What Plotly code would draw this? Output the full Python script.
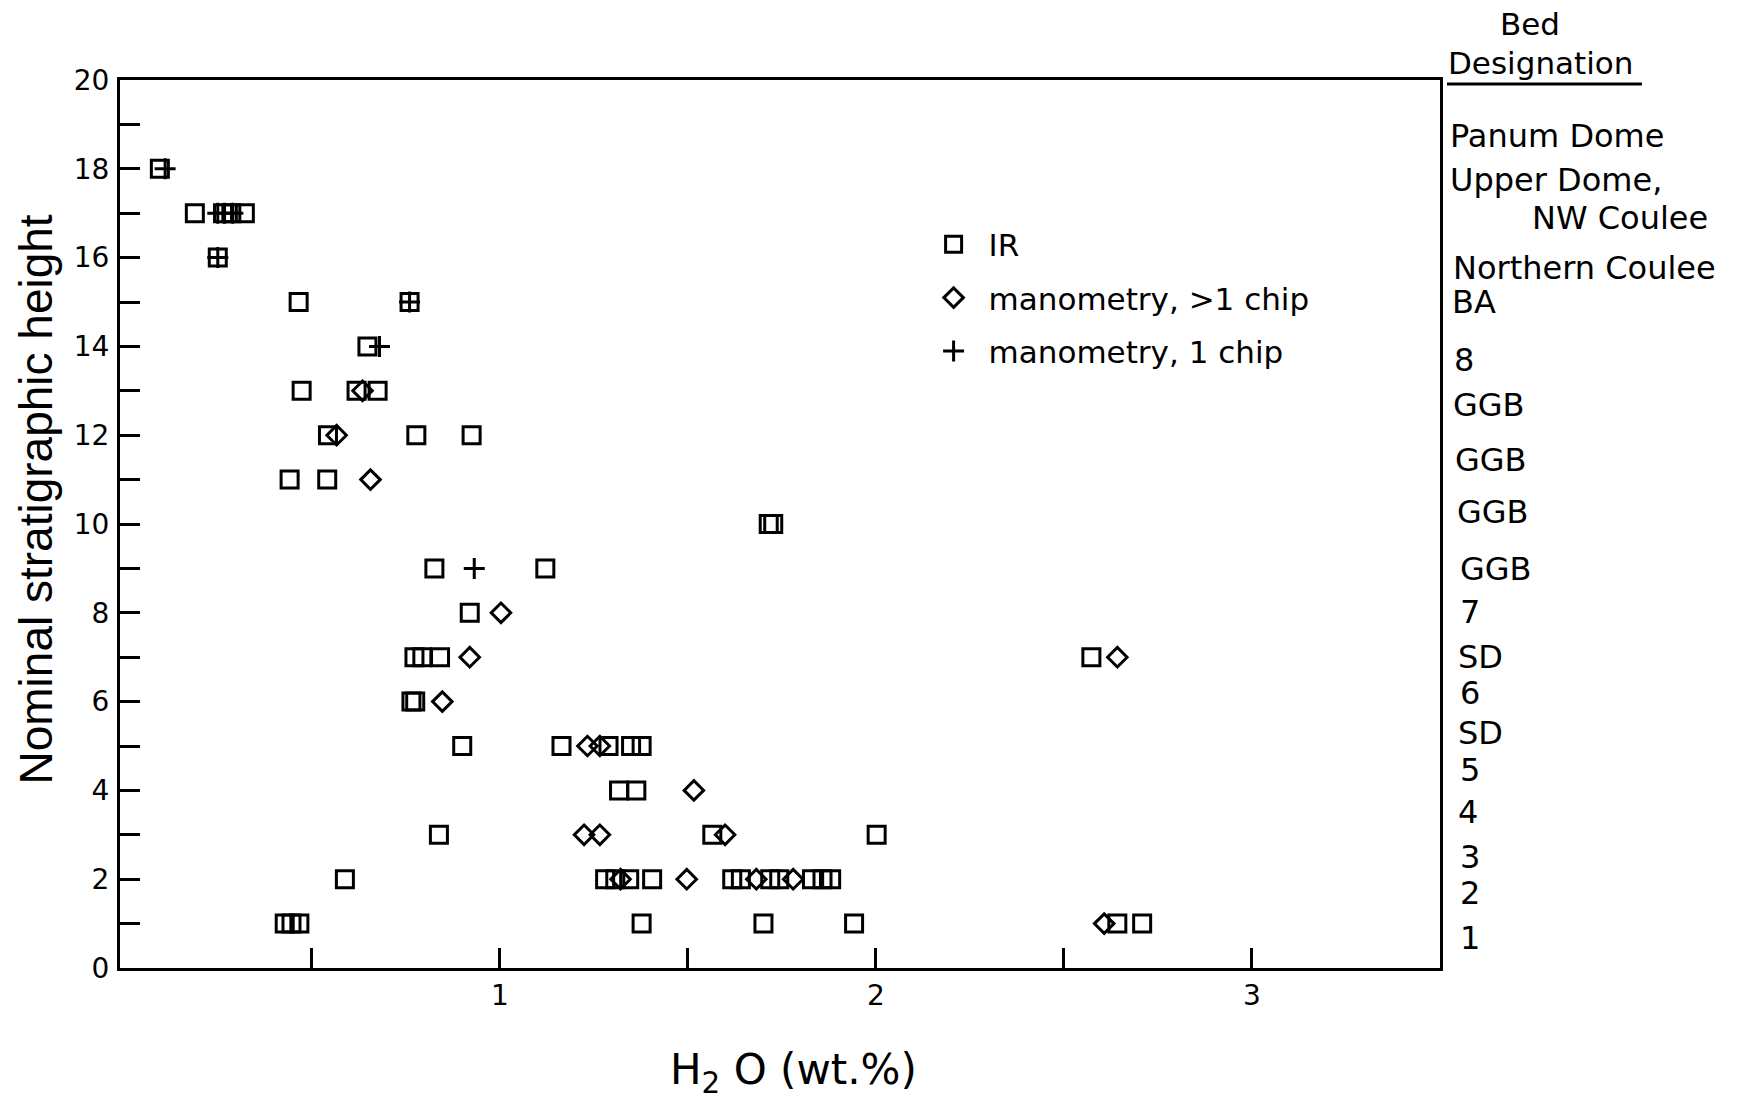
import plotly.graph_objects as go

# ---------------- data ----------------
# IR measurements (open squares)
ir_x = [0.096,
        0.189, 0.264, 0.286, 0.322,
        0.25,
        0.465, 0.76,
        0.648,
        0.473, 0.619, 0.675,
        0.543, 0.778, 0.925,
        0.441, 0.541,
        1.715, 1.727,
        0.826, 1.121,
        0.920,
        0.773, 0.794, 0.841, 2.573,
        0.765, 0.775,
        0.900, 1.164, 1.289, 1.349, 1.377,
        1.317, 1.363,
        0.838, 1.565, 2.002,
        0.588, 1.280, 1.307, 1.344, 1.405, 1.618, 1.641, 1.719, 1.743, 1.830, 1.858, 1.881,
        0.428, 0.446, 0.467, 1.377, 1.701, 1.942, 2.642, 2.708]
ir_y = [18,
        17, 17, 17, 17,
        16,
        15, 15,
        14,
        13, 13, 13,
        12, 12, 12,
        11, 11,
        10, 10,
        9, 9,
        8,
        7, 7, 7, 7,
        6, 6,
        5, 5, 5, 5, 5,
        4, 4,
        3, 3, 3,
        2, 2, 2, 2, 2, 2, 2, 2, 2, 2, 2, 2,
        1, 1, 1, 1, 1, 1, 1, 1]

# manometry, >1 chip (open diamonds)
mano_multi_x = [0.635, 0.566, 0.656, 1.003, 0.920, 2.642, 0.847,
                1.233, 1.266, 1.516, 1.224, 1.266, 1.599,
                1.321, 1.497, 1.682, 1.780, 2.607]
mano_multi_y = [13, 12, 11, 8, 7, 7, 6,
                5, 5, 4, 3, 3, 3,
                2, 2, 2, 2, 1]

# manometry, 1 chip (plus signs)
mano_single_x = [0.110, 0.250, 0.268, 0.290, 0.250, 0.760, 0.680, 0.932]
mano_single_y = [18, 17, 17, 17, 16, 15, 14, 9]

# axis ticks
x_tick_vals = [1, 2, 3]
x_tick_text = ["1", "2", "3"]
x_minor_vals = [0.5, 1.5, 2.5]

# bed designations (right-hand column) and their heights on the y scale
bed_labels = ["Panum Dome", "Upper Dome,", "NW Coulee", "Northern Coulee", "BA",
              "8", "GGB", "GGB", "GGB", "GGB", "7", "SD", "6", "SD",
              "5", "4", "3", "2", "1"]
bed_label_y = [18.74, 17.75, 16.90, 15.77, 15.00,
               13.70, 12.68, 11.44, 10.27, 8.99, 8.02, 7.01, 6.19, 5.30,
               4.46, 3.51, 2.50, 1.69, 0.68]
# horizontal offsets (px) of the labels from the right frame
bed_label_dx = [8, 8, 90, 11, 10,
                12, 11, 13, 15, 18, 18, 16, 18, 16,
                18, 16, 18, 18, 18]

FONT = "DejaVu Sans"
TITLE_FONT = "Liberation Sans, Arial, sans-serif"

fig = go.Figure()

fig.add_trace(go.Scatter(
    x=ir_x, y=ir_y, mode="markers", name="IR", legendgroup="a",
    marker=dict(symbol="square-open", size=17, color="black",
                line=dict(width=3, color="black"))))
fig.add_trace(go.Scatter(
    x=mano_multi_x, y=mano_multi_y, mode="markers",
    name="manometry, >1 chip", legendgroup="b",
    marker=dict(symbol="diamond-open", size=15, color="black",
                line=dict(width=3, color="black"))))
fig.add_trace(go.Scatter(
    x=mano_single_x, y=mano_single_y, mode="markers",
    name="manometry, 1 chip", legendgroup="c",
    marker=dict(symbol="cross-thin", size=15, color="black",
                line=dict(width=3, color="black"))))

annotations = []
for txt, yv, dx in zip(bed_labels, bed_label_y, bed_label_dx):
    annotations.append(dict(
        text=txt, x=1, xref="paper", y=yv, yref="y",
        xanchor="left", yanchor="middle", xshift=dx, showarrow=False,
        font=dict(family=FONT, size=32, color="black")))

# column header
annotations.append(dict(text="Bed", x=1, xref="paper", y=1.063, yref="paper",
                        xanchor="center", yanchor="middle", xshift=90,
                        showarrow=False,
                        font=dict(family=FONT, size=31, color="black")))
annotations.append(dict(text="Designation", x=1, xref="paper", y=1.019, yref="paper",
                        xanchor="left", yanchor="middle", xshift=6,
                        showarrow=False,
                        font=dict(family=FONT, size=31, color="black")))

# axis titles
annotations.append(dict(text="H<sub>2</sub> O (wt.%)", x=0.51, xref="paper",
                        y=-0.118, yref="paper", xanchor="center", yanchor="middle",
                        showarrow=False,
                        font=dict(family=FONT, size=42, color="black")))
annotations.append(dict(text="Nominal stratigraphic height", x=-0.064, xref="paper",
                        y=10.54, yref="y", xanchor="center", yanchor="middle",
                        textangle=-90, showarrow=False,
                        font=dict(family=TITLE_FONT, size=46, color="black")))

fig.update_layout(
    width=1738, height=1105,
    margin=dict(l=120, r=298, t=80, b=137, autoexpand=False),
    paper_bgcolor="white", plot_bgcolor="white",
    showlegend=True,
    legend=dict(x=0.605, y=0.845, xanchor="left", yanchor="top",
                bgcolor="rgba(0,0,0,0)", borderwidth=0,
                font=dict(family=FONT, size=31, color="black"),
                tracegroupgap=10, itemwidth=60),
    annotations=annotations,
    shapes=[dict(type="line", xref="paper", yref="paper",
                 x0=1.0053, x1=1.153, y0=0.9955, y1=0.9955,
                 line=dict(color="black", width=3))],
)

fig.update_xaxes(
    range=[-0.01, 3.5], showgrid=False, zeroline=False,
    showline=True, linecolor="black", linewidth=3, mirror=True,
    tickmode="array", tickvals=x_tick_vals, ticktext=x_tick_text,
    ticks="inside", ticklen=20, tickwidth=2.5, tickcolor="black",
    ticklabelstandoff=0,
    tickfont=dict(family=FONT, size=28, color="black"),
    minor=dict(tickmode="array", tickvals=x_minor_vals, ticks="inside",
               ticklen=20, tickwidth=2.5, tickcolor="black", showgrid=False),
)
fig.update_yaxes(
    range=[0, 20], showgrid=False, zeroline=False,
    showline=True, linecolor="black", linewidth=3, mirror=True,
    tickmode="linear", tick0=0, dtick=2,
    ticks="inside", ticklen=20, tickwidth=2.5, tickcolor="black",
    ticklabelstandoff=2,
    tickfont=dict(family=FONT, size=28, color="black"),
    minor=dict(dtick=1, ticks="inside", ticklen=20, tickwidth=2.5,
               tickcolor="black", showgrid=False),
)

fig.write_html("out.html")
